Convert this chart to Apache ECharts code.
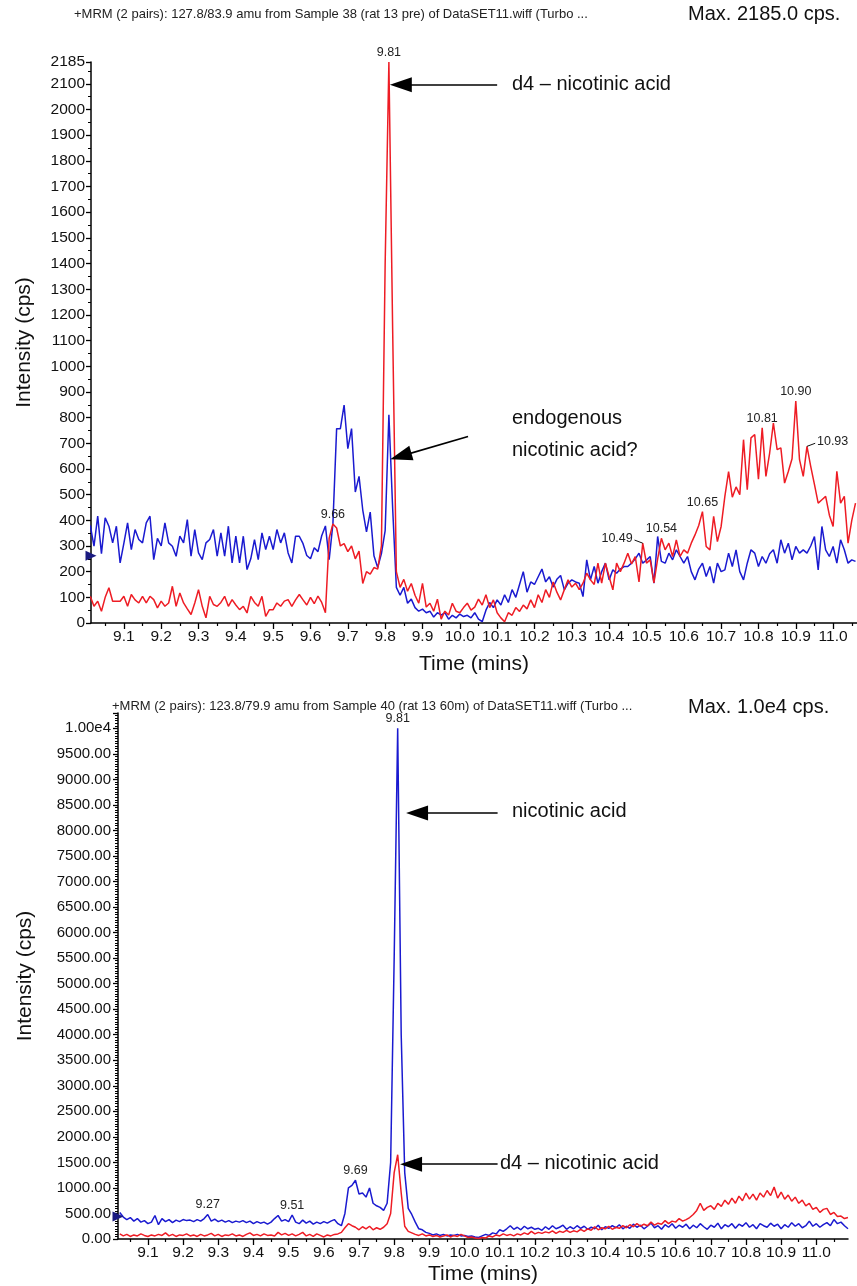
<!DOCTYPE html>
<html>
<head>
<meta charset="utf-8">
<script src="https://cdn.jsdelivr.net/npm/echarts@6/dist/echarts.min.js"></script>
<style>
  html, body { margin: 0; padding: 0; background: #fff; }
  #chart { width: 857px; height: 1286px; }
</style>
</head>
<body>
<div id="chart"></div>
<script>
// sampling grid of the chromatograms (min)
const step = 0.01;
const topStart = 9.01;
const bottomStart = 9.02;

// upper panel: 127.8/83.9, sample 38
const topRed = [
  104, 65, 85, 46, 100, 137, 85, 85, 85, 104,
  65, 111, 90, 78, 104, 78, 104, 91, 59, 85,
  65, 78, 143, 65, 117, 78, 55, 33, 78, 130,
  65, 20, 104, 72, 65, 80, 104, 65, 91, 70,
  52, 65, 39, 104, 80, 65, 104, 26, 52, 52,
  78, 65, 85, 91, 65, 90, 111, 90, 70, 100,
  75, 105, 80, 40, 330, 386, 370, 300, 309, 278,
  300, 250, 280, 154, 200, 190, 216, 210, 300, 1400,
  2185, 1150, 200, 139, 170, 124, 154, 108, 77, 154,
  62, 77, 46, 93, 15, 46, 31, 77, 46, 40,
  60, 77, 50, 62, 93, 70, 110, 60, 90, 40,
  20, 5, 40, 30, 60, 45, 70, 55, 90, 60,
  110, 80, 130, 100, 160, 120, 90, 130, 168, 140,
  155, 130, 155, 194, 168, 150, 233, 155, 233, 180,
  129, 233, 200, 233, 272, 230, 259, 160, 311, 233,
  246, 156, 250, 330, 285, 311, 259, 324, 259, 285,
  272, 311, 343, 380, 434, 298, 285, 415, 317, 376,
  493, 590, 490, 530, 500, 714, 519, 721, 734, 560,
  760, 571, 662, 779, 675, 682, 545, 590, 640, 864,
  636, 571, 688, 610, 540, 467, 480, 493, 420, 376,
  591, 467, 493, 311, 400, 467
];
const topBlue = [
  380, 299, 416, 270, 410, 377, 312, 377, 234, 310,
  390, 286, 364, 325, 312, 390, 416, 247, 330, 300,
  390, 312, 299, 260, 338, 312, 403, 260, 364, 273,
  247, 312, 325, 364, 260, 351, 260, 377, 234, 338,
  234, 338, 208, 250, 325, 247, 351, 286, 338, 286,
  364, 312, 351, 273, 234, 338, 338, 309, 263, 250,
  293, 278, 340, 378, 247, 386, 757, 757, 849, 679,
  757, 510, 571, 440, 355, 432, 262, 216, 270, 360,
  811, 450, 139, 108, 139, 77, 93, 60, 46, 54,
  40, 46, 23, 40, 31, 40, 15, 30, 20, 35,
  25, 30, 20, 40, 15, 5, 50, 80, 60, 90,
  70, 110, 80, 130, 100, 150, 200, 120, 160, 150,
  180, 210, 160, 180, 140, 170, 185, 129, 155, 168,
  160, 155, 103, 246, 168, 220, 155, 200, 233, 168,
  207, 194, 210, 220, 220, 233, 250, 272, 233, 245,
  259, 155, 337, 240, 233, 272, 246, 285, 259, 233,
  259, 200, 168, 210, 233, 181, 220, 155, 233, 200,
  207, 272, 220, 285, 200, 168, 233, 285, 272, 220,
  259, 233, 270, 285, 233, 324, 272, 311, 246, 298,
  272, 285, 272, 300, 337, 207, 376, 285, 259, 298,
  233, 324, 285, 233, 246, 240
];

// lower panel: 123.8/79.9, sample 40
const bottomBlue = [
  520, 430, 380, 420, 350, 400, 330, 360, 300, 330,
  460, 280, 400, 340, 380, 320, 370, 340, 380, 360,
  370, 340, 380, 350, 400, 480, 350, 390, 340, 370,
  330, 360, 320, 350, 330, 360, 320, 350, 300, 340,
  310, 330, 290, 330, 400, 460, 350, 380, 340, 470,
  330, 300, 370, 310, 350, 290, 330, 300, 340, 310,
  350, 380, 300, 260, 500, 1000, 1050, 1150, 880, 900,
  820, 1000, 700, 650, 620, 560, 700, 1500, 5500, 10000,
  4000, 1300, 600, 480, 330, 200, 180, 130, 110, 80,
  100, 70, 90, 60, 80, 70, 90, 60, 70, 50,
  60, 40, 30, 60, 90, 70, 120, 100, 180, 150,
  200, 260, 190, 230, 180, 250, 200, 230, 190, 210,
  170, 240, 190, 260, 200, 230, 270, 190, 240, 200,
  260, 210, 250, 190, 230, 200, 270, 180, 240, 210,
  260, 220, 280, 200, 250, 210, 290, 230, 270, 200,
  250, 310, 220, 260, 190, 280, 230, 300, 210, 270,
  230, 290, 200, 270, 220, 300, 240, 190, 270, 230,
  310, 200, 280, 240, 300, 210, 290, 250, 320, 230,
  280, 200, 300, 260, 230, 310, 250, 290, 200, 280,
  230, 320, 250, 300, 220, 260, 350, 250, 300, 230,
  280, 320, 260, 380, 300, 330, 260, 200
];
const bottomRed = [
  100, 60, 90, 50, 80, 60, 100, 70, 50, 80,
  60, 90, 70, 120, 60, 90, 50, 80, 70, 100,
  60, 80, 50, 90, 60, 80, 110, 60, 90, 50,
  80, 70, 100, 60, 80, 50, 90, 120, 70, 90,
  60, 100, 70, 80, 60, 130, 80, 110, 70, 100,
  60, 90, 130, 60, 90, 50, 100, 70, 40, 80,
  60, 90, 100, 130, 220, 300, 260, 230, 180, 240,
  200, 250, 180, 220, 190, 230, 300, 500, 1300, 1650,
  900, 250, 150, 120, 90, 70, 100, 60, 80, 50,
  70, 40, 60, 80, 40, 70, 50, 90, 60, 30,
  40, 20, 10, 30, 20, 60, 40, 80, 60, 100,
  70, 90, 60, 100, 80, 120, 90, 150, 100, 130,
  110, 140, 120, 160, 110, 150, 130, 170, 130, 160,
  140, 190, 150, 200, 170, 240, 180, 220, 200, 250,
  190, 230, 210, 260, 220, 280, 240, 300, 250, 290,
  260, 330, 270, 310, 290, 360, 300, 350, 330, 400,
  350, 380, 420, 480, 560, 700, 560, 620, 650, 580,
  700, 640, 760, 680, 800, 700, 840, 750, 900, 780,
  880, 760, 900, 820, 950, 850, 1020, 800, 920, 780,
  860, 740, 820, 700, 760, 650, 700, 580, 620, 520,
  580, 600, 480, 520, 440, 450, 400, 420
];

// axis ticks
const xTickLabels = [9.1, 9.2, 9.3, 9.4, 9.5, 9.6, 9.7, 9.8, 9.9, 10.0,
  10.1, 10.2, 10.3, 10.4, 10.5, 10.6, 10.7, 10.8, 10.9, 11.0];
const xMinorTicks = xTickLabels.map(v => +(v - 0.05).toFixed(2)).concat([11.05]);

// peak labels: retention time, label side
const topPeaks = [[9.81, 'top'], [9.66, 'top'], [10.49, 'left'], [10.54, 'top'],
  [10.65, 'top'], [10.81, 'top'], [10.90, 'top'], [10.93, 'right']];
const bottomPeaks = [[9.81, 'top'], [9.69, 'top'], [9.27, 'top'], [9.51, 'top']];

// arrows [from, to] in data units
const topArrows = [[[10.10, 2096], [9.842, 2096]], [[10.022, 726], [9.842, 650]]];
const bottomArrows = [[[10.094, 8340], [9.865, 8340]], [[10.094, 1466], [9.848, 1466]]];

const topMarker = 262, bottomMarker = 440;

function pairs(start, values) {
  return values.map((v, i) => [+(start + i * step).toFixed(2), v]);
}
function valueAt(start, values, t) {
  return values[Math.round((t - start) / step)];
}

const FONT = "'Liberation Sans', Arial, Helvetica, sans-serif";
const RED = '#ee1c24', BLUE = '#1a1ad0';

function peakPoints(start, values, peaks) {
  return peaks.map(([t, side]) => ({
    coord: [t, valueAt(start, values, t)],
    label: {
      show: true,
      formatter: t.toFixed(2),
      position: side,
      distance: side === 'top' ? 3 : 10,
      offset: side === 'top' ? [0, 0] : [0, -5],
      fontSize: 12.5, color: '#222', fontFamily: FONT
    }
  }));
}
// short leader lines for labels set beside their peak
function leaderLines(start, values, peaks, dt, dv) {
  return peaks.filter(p => p[1] !== 'top').map(([t, side]) => {
    const v = valueAt(start, values, t);
    return [{ coord: [t, v] }, { coord: [t + (side === 'left' ? -dt : dt), v + dv] }];
  });
}
function arrowLines(arrows) {
  return arrows.map(([a, b]) => [{ coord: a }, { coord: b }]);
}

const arrowStyle = {
  silent: true, animation: false,
  symbol: ['none', 'triangle'], symbolSize: [15, 22],
  lineStyle: { color: '#000', width: 1.6, type: 'solid' },
  itemStyle: { color: '#000' },
  label: { show: false }
};

function xAxisPair(gridIndex, min, max) {
  return [{
    type: 'value', gridIndex, min, max, position: 'bottom',
    name: 'Time (mins)', nameLocation: 'middle', nameGap: gridIndex === 0 ? 31 : 25,
    nameTextStyle: { fontSize: 21, color: '#111', fontFamily: FONT },
    axisLine: { onZero: false, lineStyle: { color: '#000', width: 1.5 } },
    axisTick: { customValues: xTickLabels, length: 6, lineStyle: { color: '#000', width: 1.3 } },
    axisLabel: { customValues: xTickLabels, formatter: v => v.toFixed(1), fontSize: 15.5,
      color: '#111', margin: 6, fontFamily: FONT },
    splitLine: { show: false }
  }, {
    type: 'value', gridIndex, min, max, position: 'bottom',
    axisLine: { show: false },
    axisTick: { customValues: xMinorTicks, length: 3, lineStyle: { color: '#000', width: 1.2 } },
    axisLabel: { show: false },
    splitLine: { show: false }
  }];
}

const chart = echarts.init(document.getElementById('chart'), null, { renderer: 'canvas' });

chart.setOption({
  animation: false,
  backgroundColor: '#fff',
  grid: [
    { left: 91, top: 62, width: 766, height: 561 },
    { left: 118, top: 713, width: 730, height: 527 }
  ],
  xAxis: xAxisPair(0, 9.012, 11.064).concat(xAxisPair(1, 9.015, 11.09)),
  yAxis: [{
    type: 'value', gridIndex: 0, min: 0, max: 2185, interval: 100,
    name: 'Intensity (cps)', nameLocation: 'middle', nameGap: 56,
    nameTextStyle: { fontSize: 21, color: '#111', fontFamily: FONT },
    axisLine: { show: true, lineStyle: { color: '#000', width: 1.5 } },
    axisTick: { show: true, length: 5, lineStyle: { color: '#000', width: 1.3 } },
    minorTick: { show: true, splitNumber: 2, length: 3, lineStyle: { color: '#000' } },
    axisLabel: { fontSize: 15.5, color: '#111', margin: 6, fontFamily: FONT,
      formatter: v => String(Math.round(v)) },
    splitLine: { show: false }
  }, {
    type: 'value', gridIndex: 1, min: 0, max: 10300, interval: 500,
    name: 'Intensity (cps)', nameLocation: 'middle', nameGap: 82,
    nameTextStyle: { fontSize: 21, color: '#111', fontFamily: FONT },
    axisLine: { show: true, lineStyle: { color: '#000', width: 1.5 } },
    axisTick: { show: true, length: 5, lineStyle: { color: '#000', width: 1.3 } },
    minorTick: { show: true, splitNumber: 10, length: 3, lineStyle: { color: '#000' } },
    axisLabel: { fontSize: 15, color: '#111', margin: 7, fontFamily: FONT, showMaxLabel: false,
      formatter: v => v > 10000 ? '' : (v === 10000 ? '1.00e4' : v.toFixed(2)) },
    splitLine: { show: false }
  }],
  series: [{
    type: 'line', xAxisIndex: 0, yAxisIndex: 0, data: pairs(topStart, topBlue),
    showSymbol: false, lineStyle: { color: BLUE, width: 1.5 }, itemStyle: { color: BLUE },
    markPoint: {
      silent: true, symbol: 'triangle', symbolRotate: -90, symbolSize: [10, 11],
      itemStyle: { color: '#1a1a80' }, label: { show: false },
      data: [{ coord: [9.012, topMarker] }]
    }
  }, {
    type: 'line', xAxisIndex: 0, yAxisIndex: 0, data: pairs(topStart, topRed),
    showSymbol: false, lineStyle: { color: RED, width: 1.5 }, itemStyle: { color: RED },
    markPoint: { silent: true, symbol: 'circle', symbolSize: 0,
      data: peakPoints(topStart, topRed, topPeaks) },
    markLine: Object.assign({ data: arrowLines(topArrows) }, arrowStyle)
  }, {
    type: 'line', xAxisIndex: 0, yAxisIndex: 0, data: [],
    markLine: {
      silent: true, animation: false, symbol: ['none', 'none'],
      lineStyle: { color: '#111', width: 1, type: 'solid' }, label: { show: false },
      data: leaderLines(topStart, topRed, topPeaks, 0.022, 12)
    }
  }, {
    type: 'line', xAxisIndex: 2, yAxisIndex: 1, data: pairs(bottomStart, bottomBlue),
    showSymbol: false, lineStyle: { color: BLUE, width: 1.5 }, itemStyle: { color: BLUE },
    markPoint: { silent: true, symbol: 'circle', symbolSize: 0,
      data: peakPoints(bottomStart, bottomBlue, bottomPeaks) },
    markLine: Object.assign({ data: arrowLines(bottomArrows) }, arrowStyle)
  }, {
    type: 'line', xAxisIndex: 2, yAxisIndex: 1, data: pairs(bottomStart, bottomRed),
    showSymbol: false, lineStyle: { color: RED, width: 1.5 }, itemStyle: { color: RED },
    markPoint: {
      silent: true, symbol: 'triangle', symbolRotate: -90, symbolSize: [10, 11],
      itemStyle: { color: '#1a1a80' }, label: { show: false },
      data: [{ coord: [9.015, bottomMarker] }]
    }
  }],
  graphic: [
    { type: 'text', left: 74, top: 8, style: { text: '+MRM (2 pairs): 127.8/83.9 amu from Sample 38 (rat 13 pre) of DataSET11.wiff (Turbo ...', font: '13px ' + FONT, fill: '#222' } },
    { type: 'text', left: 688, top: 4, style: { text: 'Max. 2185.0 cps.', font: '20px ' + FONT, fill: '#111' } },
    { type: 'text', left: 512, top: 74, style: { text: 'd4 \u2013 nicotinic acid', font: '20px ' + FONT, fill: '#111' } },
    { type: 'text', left: 512, top: 408, style: { text: 'endogenous', font: '20px ' + FONT, fill: '#111' } },
    { type: 'text', left: 512, top: 440, style: { text: 'nicotinic acid?', font: '20px ' + FONT, fill: '#111' } },
    { type: 'text', left: 112, top: 700, style: { text: '+MRM (2 pairs): 123.8/79.9 amu from Sample 40 (rat 13 60m) of DataSET11.wiff (Turbo ...', font: '13px ' + FONT, fill: '#222' } },
    { type: 'text', left: 688, top: 697, style: { text: 'Max. 1.0e4 cps.', font: '20px ' + FONT, fill: '#111' } },
    { type: 'text', left: 512, top: 801, style: { text: 'nicotinic acid', font: '20px ' + FONT, fill: '#111' } },
    { type: 'text', left: 500, top: 1153, style: { text: 'd4 \u2013 nicotinic acid', font: '20px ' + FONT, fill: '#111' } }
  ]
});
</script>
</body>
</html>
